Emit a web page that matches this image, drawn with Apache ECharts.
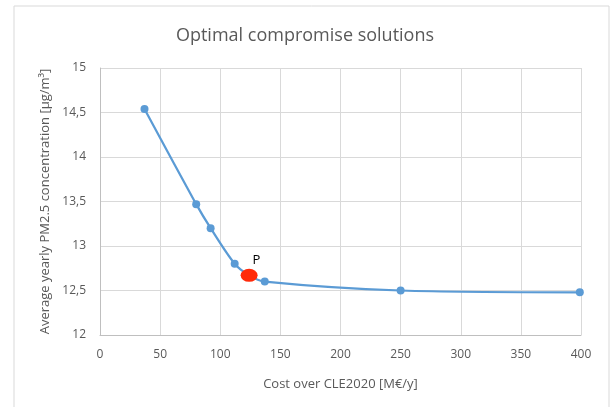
<!DOCTYPE html>
<html>
<head>
<meta charset="utf-8">
<script src="https://cdn.jsdelivr.net/npm/echarts@6/dist/echarts.min.js"></script>
<style>
html,body{margin:0;padding:0;background:#fff;}
#c{width:610px;height:407px;}
</style>
</head>
<body>
<div id="c"></div>
<script>
const costs = [37, 80, 92, 112, 124, 137, 250, 399];
const pm25 = [14.54, 13.47, 13.20, 12.80, 12.67, 12.60, 12.50, 12.48];
const pointP = [124, 12.67];
const pLabel = 'P';
const xTicks = [0, 400, 50];
const yTicks = [12, 15, 0.5];

const chart = echarts.init(document.getElementById('c'));
const font = '"Open Sans", "Liberation Sans", sans-serif';
chart.setOption({
  animation: false,
  backgroundColor: '#fff',
  title: {
    text: 'Optimal compromise solutions',
    left: 'center', top: 22,
    textStyle: {color: '#595959', fontSize: 18, fontWeight: 'normal', fontFamily: font}
  },
  graphic: [{
    type: 'rect', shape: {x: 14, y: 6, width: 595, height: 420},
    style: {fill: 'none', stroke: '#d9d9d9', lineWidth: 1}, silent: true, z: -1
  }],
  grid: {left: 100, right: 29, top: 68, bottom: 72},
  xAxis: {
    type: 'value', min: xTicks[0], max: xTicks[1], interval: xTicks[2],
    name: 'Cost over CLE2020 [M€/y]', nameLocation: 'middle', nameGap: 43,
    nameTextStyle: {color: '#595959', fontSize: 13, fontFamily: font},
    axisLine: {show: true, lineStyle: {color: '#bfbfbf'}},
    axisTick: {show: false},
    axisLabel: {color: '#595959', fontSize: 12, fontFamily: font, margin: 14},
    splitLine: {show: true, lineStyle: {color: '#d9d9d9'}}
  },
  yAxis: {
    type: 'value', min: yTicks[0], max: yTicks[1], interval: yTicks[2],
    name: 'Average yearly PM2.5 concentration [µg/m³]', nameLocation: 'middle', nameGap: 46,
    nameTextStyle: {color: '#595959', fontSize: 13, fontFamily: font},
    axisLine: {show: true, lineStyle: {color: '#bfbfbf'}},
    axisTick: {show: false},
    axisLabel: {color: '#595959', fontSize: 12, fontFamily: font, margin: 14,
      formatter: v => String(v).replace('.', ',')},
    splitLine: {show: true, lineStyle: {color: '#d9d9d9'}}
  },
  series: [{
    type: 'line', smooth: 0.3,
    data: costs.map((c, i) => [c, pm25[i]]),
    symbol: 'circle', symbolSize: 8,
    lineStyle: {color: '#5B9BD5', width: 2.25},
    itemStyle: {color: '#5B9BD5'}
  }, {
    type: 'scatter',
    data: [pointP],
    symbol: 'circle', symbolSize: [17, 13],
    itemStyle: {color: '#FF2A0A', opacity: 1},
    label: {show: true, formatter: pLabel, position: [12, -15], color: '#000', fontSize: 13, fontFamily: font},
    z: 5
  }]
});
</script>
</body>
</html>
